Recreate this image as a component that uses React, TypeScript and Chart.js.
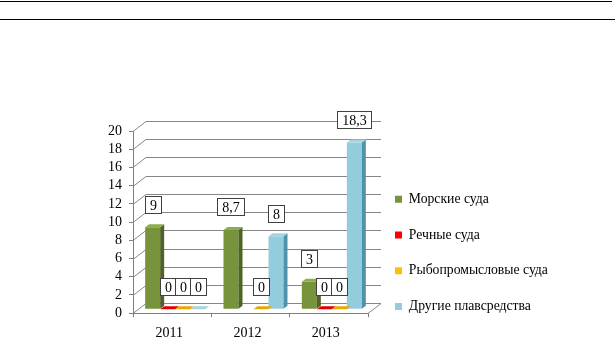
import { useEffect, useRef } from 'react';
import { Chart, registerables } from 'chart.js';

Chart.register(...registerables);

// ---- data ----
const categories = ['2011', '2012', '2013'];
const seriesNames = ['Морские суда', 'Речные суда', 'Рыбопромысловые суда', 'Другие плавсредства'];
const seaVessels: (number | null)[] = [9, 8.7, 3];
const riverVessels: (number | null)[] = [0, null, 0];
const fishingVessels: (number | null)[] = [0, 0, 0];
const otherCraft: (number | null)[] = [0, 8, 18.3];
const yMin = 0;
const yMax = 20;
const yStep = 2;

// ---- styles ----
const FONT = "'Liberation Serif', 'Times New Roman', serif";
const frontColors = ['#77933C', '#FF0000', '#FFC000', '#93CDDD'];
const sideColors = ['#4F6228', '#A00000', '#B08400', '#4F93AB'];
const topColors = ['#8DAE4C', '#E00000', '#E8A800', '#A5D5E3'];
const GRID = '#868686';
const AXIS = '#7f7f7f';

const WALL_DX = 13;
const WALL_DY = -10;
const BAR_SX = 3;
const BAR_SY = -4;
const BAR_DX = 4;
const BAR_DY = -3;
const LABEL_GAP = 23;

const LEGEND_WIDTH = 247;
const LEGEND_LEFT = 373;
const LEGEND_TOP = 170.5;

const fmt = (v: number) => String(v).replace('.', ',');

const threeD = {
  id: 'threeD',
  beforeDatasetsDraw(chart: any) {
    const { ctx, chartArea, scales } = chart;
    const { left, right, bottom } = chartArea;
    const y = scales.y;
    ctx.save();
    ctx.strokeStyle = GRID;
    ctx.lineWidth = 1;
    y.ticks.forEach((t: any) => {
      const py = Math.round(y.getPixelForValue(t.value)) + 0.5;
      ctx.beginPath();
      ctx.moveTo(left, py);
      ctx.lineTo(left + WALL_DX, py + WALL_DY);
      ctx.lineTo(right + WALL_DX, py + WALL_DY);
      ctx.stroke();
    });
    ctx.beginPath();
    ctx.moveTo(right, Math.round(bottom) + 0.5);
    ctx.lineTo(right + WALL_DX, Math.round(bottom) + 0.5 + WALL_DY);
    ctx.stroke();
    ctx.restore();
    ctx.save();
    ctx.translate(BAR_SX, BAR_SY);
  },
  afterDatasetsDraw(chart: any) {
    const ctx = chart.ctx;
    ctx.restore();
    const items: { di: number; x: number; y: number; base: number; w: number; v: number }[] = [];
    chart.data.datasets.forEach((ds: any, di: number) => {
      const meta = chart.getDatasetMeta(di);
      meta.data.forEach((el: any, i: number) => {
        const v = ds.data[i];
        if (v === null || v === undefined) return;
        const p = el.getProps(['x', 'y', 'base', 'width'], true);
        items.push({ di, x: p.x, y: p.y, base: p.base, w: p.width, v });
      });
    });
    ctx.save();
    items.forEach(({ di, x, y, base, w }) => {
      const l = x - w / 2 + BAR_SX;
      const r = x + w / 2 + BAR_SX;
      const t = y + BAR_SY;
      const b = base + BAR_SY;
      ctx.fillStyle = sideColors[di];
      ctx.beginPath();
      ctx.moveTo(r, t);
      ctx.lineTo(r + BAR_DX, t + BAR_DY);
      ctx.lineTo(r + BAR_DX, b + BAR_DY);
      ctx.lineTo(r, b);
      ctx.closePath();
      ctx.fill();
      ctx.fillStyle = topColors[di];
      ctx.beginPath();
      ctx.moveTo(l, t);
      ctx.lineTo(r, t);
      ctx.lineTo(r + BAR_DX, t + BAR_DY);
      ctx.lineTo(l + BAR_DX, t + BAR_DY);
      ctx.closePath();
      ctx.fill();
    });
    // data labels
    ctx.font = `14px ${FONT}`;
    ctx.textAlign = 'center';
    ctx.textBaseline = 'middle';
    items.forEach(({ x, y, v }) => {
      const txt = fmt(v);
      const tw = ctx.measureText(txt).width;
      const cx = x + BAR_SX;
      const cy = y + BAR_SY - LABEL_GAP;
      const bw = Math.round(tw + 9);
      const bh = 17;
      const bx = Math.round(cx - bw / 2) + 0.5;
      const by = Math.round(cy - bh / 2) + 0.5;
      ctx.fillStyle = '#ffffff';
      ctx.fillRect(bx, by, bw, bh);
      ctx.strokeStyle = '#404040';
      ctx.lineWidth = 1;
      ctx.strokeRect(bx, by, bw, bh);
      ctx.fillStyle = '#000000';
      ctx.fillText(txt, bx + bw / 2, by + bh / 2 + 1);
    });
    ctx.restore();
  },
};

const legendPlacer = {
  id: 'legendPlacer',
  beforeLayout(chart: any) {
    const lg = chart.legend;
    if (lg && !lg.__patched) {
      const orig = lg.fit.bind(lg);
      lg.fit = () => {
        orig();
        lg.width = LEGEND_WIDTH;
      };
      lg.__patched = true;
    }
  },
  afterLayout(chart: any) {
    const lg = chart.legend;
    if (!lg) return;
    lg.left = LEGEND_LEFT;
    lg.right = chart.width;
    lg.top = LEGEND_TOP;
    lg.bottom = chart.height;
    lg.height = lg.bottom - lg.top;
  },
};

export default function App() {
  const ref = useRef<HTMLCanvasElement | null>(null);
  useEffect(() => {
    if (!ref.current) return;
    const series = [seaVessels, riverVessels, fishingVessels, otherCraft];
    const chart = new Chart(ref.current, {
      type: 'bar',
      data: {
        labels: categories,
        datasets: series.map((d, i) => ({
          label: seriesNames[i],
          data: d,
          backgroundColor: frontColors[i],
          borderWidth: 0,
          categoryPercentage: 0.766,
          barPercentage: 1,
        })),
      },
      options: {
        responsive: false,
        animation: false,
        devicePixelRatio: 1,
        layout: { padding: { top: 131, left: 0, right: 0, bottom: 6 } },
        plugins: {
          legend: {
            position: 'right',
            align: 'start',
            labels: {
              boxWidth: 7,
              boxHeight: 7,
              padding: 22,
              color: '#000',
              font: { family: FONT, size: 13.7 },
            },
          },
          tooltip: { enabled: false },
        },
        scales: {
          x: {
            grid: { offset: true, drawOnChartArea: false, drawTicks: true, tickLength: 4, color: AXIS },
            border: { display: true, color: AXIS },
            ticks: { color: '#000', font: { family: FONT, size: 14 }, padding: 8, labelOffset: -3, autoSkip: false, maxRotation: 0 },
          },
          y: {
            min: yMin,
            max: yMax,
            ticks: { stepSize: yStep, color: '#000', font: { family: FONT, size: 14 }, padding: 7, autoSkip: false },
            grid: { drawOnChartArea: false, drawTicks: true, tickLength: 4, color: AXIS },
            border: { display: true, color: AXIS },
            afterFit: (s: any) => {
              s.width = 133;
            },
          },
        },
      } as any,
      plugins: [threeD, legendPlacer],
    });
    return () => chart.destroy();
  }, []);

  return (
    <div style={{ position: 'fixed', left: 0, top: 0, width: 615, height: 356, background: '#fff' }}>
      <div style={{ position: 'absolute', left: 0, top: 1, width: 612, height: 1, background: '#000' }} />
      <div style={{ position: 'absolute', left: 0, top: 19, width: 615, height: 1, background: '#000' }} />
      <canvas ref={ref} width={615} height={356} style={{ position: 'absolute', left: 0, top: 0, width: 615, height: 356 }} />
    </div>
  );
}
